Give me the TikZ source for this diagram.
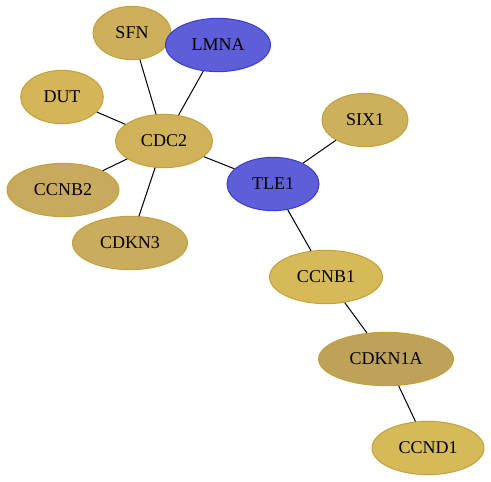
\documentclass[tikz,border=0pt]{standalone}
\usepackage{fontspec}
\setmainfont{Liberation Serif}
\usetikzlibrary{shapes.geometric}
\definecolor{gA}{RGB}{206,176,92}
\definecolor{gB}{RGB}{212,182,88}
\definecolor{gC}{RGB}{208,178,90}
\definecolor{gD}{RGB}{200,170,94}
\definecolor{gE}{RGB}{202,172,94}
\definecolor{gF}{RGB}{204,176,92}
\definecolor{gG}{RGB}{214,186,90}
\definecolor{gH}{RGB}{190,162,90}
\definecolor{gold line}{RGB}{196,160,60}
\definecolor{bl}{RGB}{94,94,216}
\definecolor{bl line}{RGB}{60,60,205}
\tikzset{
  gene/.style={ellipse, inner sep=0pt, draw=gold line, line width=0.75pt,
    font=\fontsize{13.5pt}{16pt}\selectfont, minimum height=40pt},
  bluegene/.style={gene, draw=bl line, fill=bl},
  link/.style={draw=black, line width=0.75pt}
}
\begin{document}
\begin{tikzpicture}[x=0.75pt,y=-0.75pt]
\useasboundingbox (0,0) rectangle (491,481);
\node[gene, fill=gA, minimum width=58.5pt] (SFN) at (132,33) {SFN};
\node[bluegene, minimum width=78.75pt] (LMNA) at (218,45) {LMNA};
\node[gene, fill=gB, minimum width=62pt] (DUT) at (62,97) {DUT};
\node[gene, fill=gC, minimum width=72.75pt] (CDC2) at (164,141) {CDC2};
\node[gene, fill=gF, minimum width=64.5pt] (SIX1) at (365,120) {SIX1};
\node[gene, fill=gD, minimum width=84pt] (CCNB2) at (63,190) {CCNB2};
\node[bluegene, minimum width=69pt] (TLE1) at (273,184) {TLE1};
\node[gene, fill=gE, minimum width=86.25pt] (CDKN3) at (130,243) {CDKN3};
\node[gene, fill=gG, minimum width=84.75pt] (CCNB1) at (326,277) {CCNB1};
\node[gene, fill=gH, minimum width=101.25pt] (CDKN1A) at (386,359) {CDKN1A};
\node[gene, fill=gG, minimum width=84pt] (CCND1) at (428,448) {CCND1};
\draw[link] (SFN) -- (CDC2);
\draw[link] (LMNA) -- (CDC2);
\draw[link] (DUT) -- (CDC2);
\draw[link] (CCNB2) -- (CDC2);
\draw[link] (CDKN3) -- (CDC2);
\draw[link] (CDC2) -- (TLE1);
\draw[link] (TLE1) -- (SIX1);
\draw[link] (TLE1) -- (CCNB1);
\draw[link] (CCNB1) -- (CDKN1A);
\draw[link] (CDKN1A) -- (CCND1);
\end{tikzpicture}
\end{document}
